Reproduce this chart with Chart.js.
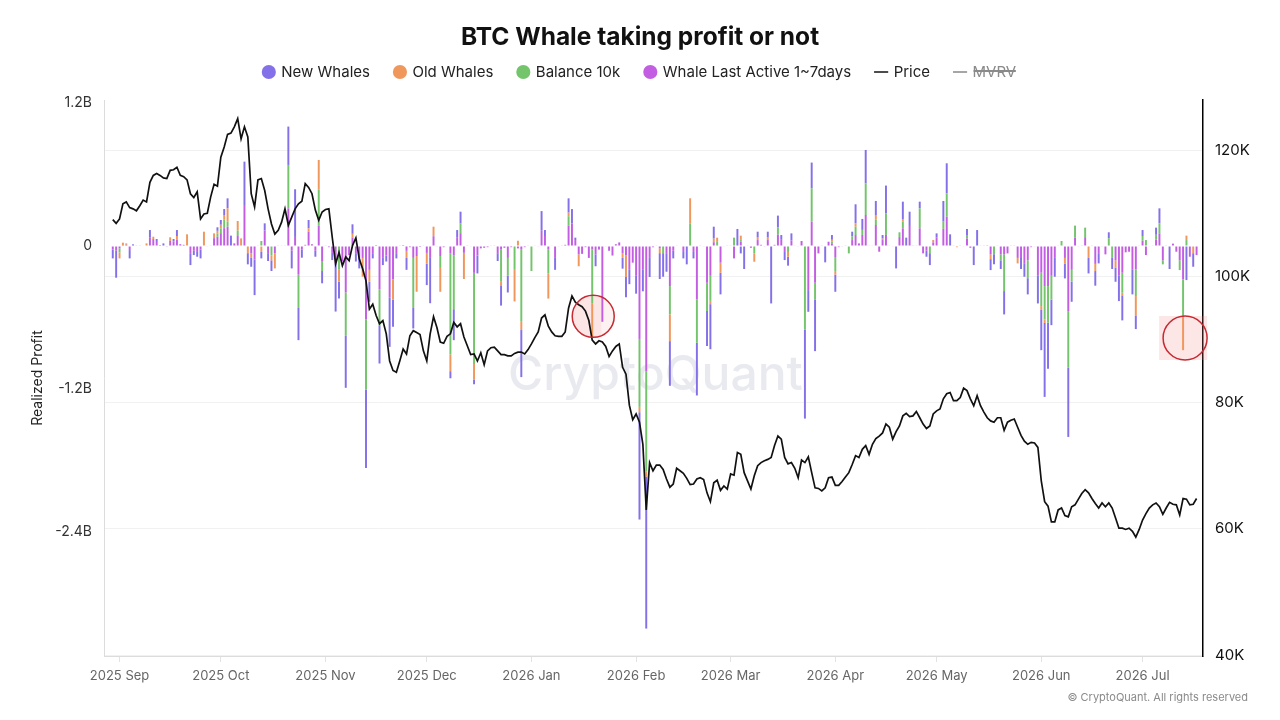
<!DOCTYPE html>
<html>
<head>
<meta charset="utf-8">
<title>BTC Whale taking profit or not</title>
<script src="https://cdn.jsdelivr.net/npm/chart.js@4.4.1/dist/chart.umd.min.js"></script>
<style>
  html, body { margin: 0; padding: 0; background: #fff; }
  #wrap { width: 1280px; height: 720px; }
</style>
</head>
<body>
<div id="wrap"><canvas id="whaleChart" width="1280" height="720"></canvas></div>
<script>
// one bar per day, starting on this date
const firstDay = [2025, 7, 30];

// BTC price, thousands of USD
const btcPrice = [
  109.0,108.4,109.1,111.5,111.8,110.9,110.7,110.4,111.2,112.1,
  111.8,114.9,116.0,116.3,116.0,115.6,115.5,116.8,116.9,117.3,
  116.0,115.8,115.3,113.1,112.5,113.4,109.1,109.9,110.0,112.6,
  114.6,114.3,118.9,120.5,122.5,122.7,123.7,125.0,121.8,123.7,
  122.1,113.1,111.0,115.3,115.5,113.6,110.7,108.3,106.7,107.3,
  108.6,110.7,108.1,109.4,110.7,111.5,111.9,114.7,114.1,113.1,
  110.5,108.9,110.2,110.6,110.7,106.2,102.0,103.8,101.7,103.1,
  102.5,104.9,106.1,102.8,101.2,99.3,94.8,95.6,93.8,92.5,
  93.0,90.9,86.6,85.1,84.8,86.6,88.5,87.7,90.6,91.4,
  91.1,90.8,88.2,86.6,90.9,93.6,91.9,89.6,89.4,90.5,
  90.9,92.7,92.0,92.5,90.4,89.0,87.6,87.7,86.6,87.9,
  86.0,88.2,88.7,88.8,88.2,87.6,87.6,87.4,87.4,87.8,
  88.0,88.0,87.7,88.4,89.3,90.3,91.2,93.4,93.9,92.1,
  91.2,90.6,90.5,90.5,91.2,95.0,96.9,95.9,95.5,95.2,
  94.5,93.0,89.9,89.3,89.8,89.6,88.9,87.3,88.2,88.9,
  89.3,85.6,84.5,79.6,77.3,78.2,76.9,73.4,63.0,70.5,
  69.2,70.1,70.1,69.4,67.9,66.6,67.1,69.6,69.2,68.8,
  68.0,67.0,67.1,67.9,68.1,67.8,65.7,64.3,67.3,67.7,
  66.1,66.8,66.3,68.7,68.5,72.1,71.8,68.9,67.6,66.3,
  68.4,70.0,70.5,70.8,71.0,71.3,73.2,74.7,74.2,71.3,
  70.3,70.5,69.6,68.1,70.9,70.5,71.4,68.9,66.5,66.4,
  66.0,66.5,68.1,68.2,66.9,66.9,67.5,68.2,68.9,70.2,
  71.6,71.3,72.6,73.2,71.8,73.4,74.3,74.7,75.2,76.6,
  76.1,74.2,75.4,76.3,77.9,78.3,77.8,77.9,78.6,77.6,
  76.6,75.9,76.3,78.2,78.7,79.0,80.6,81.4,81.6,80.3,
  80.3,80.8,82.3,81.9,80.6,79.5,81.1,79.5,78.5,77.6,
  77.1,76.9,77.6,77.6,75.6,76.9,77.2,77.4,76.1,74.8,
  73.9,73.4,73.7,73.6,72.9,67.6,64.3,63.6,61.1,61.1,
  63.0,63.3,62.1,61.9,63.5,63.8,64.7,65.6,66.2,65.7,
  64.8,64.0,63.3,64.1,63.5,64.1,63.3,61.7,60.1,60.1,
  59.9,60.1,59.6,58.7,59.9,61.4,62.4,63.3,63.8,64.1,
  63.5,62.3,63.3,64.2,63.9,63.8,62.2,64.8,64.7,63.8,
  63.9,64.8
];

// realized profit per cohort, millions of USD
const lastActive = [
  -30,-40,-20,8,10,-34,0,3,3,4,
  0,74,58,34,8,0,-6,43,39,54,
  15,10,0,-60,-40,-50,-30,0,-5,5,
  66,77,108,150,162,0,22,90,0,344,
  0,-60,-112,5,0,130,-60,0,-60,3,
  5,5,316,-38,76,-240,-28,10,120,15,
  -40,172,-126,5,-10,-58,-150,0,-130,-390,
  -76,72,-60,-100,-100,-616,-200,-60,8,-364,
  -100,-80,-434,-280,-60,3,8,-40,-10,-100,
  -84,-8,5,-58,-100,82,-5,-84,-10,4,
  -60,-80,74,108,-57,3,-5,-225,-80,-20,
  -15,-10,5,3,-60,-30,-15,-100,-10,0,
  -20,-30,-10,5,0,5,-5,128,84,-30,
  5,-100,-5,3,10,170,190,50,-70,-66,
  -10,-100,-30,-70,-30,-636,-5,-40,-80,15,
  30,-60,-80,-200,-140,-250,-780,-200,-1050,-100,
  -10,5,-20,0,-60,-336,-40,5,-5,-50,
  0,0,-50,-448,3,-5,-308,-250,32,0,
  -140,-5,3,5,-104,0,37,0,5,-15,
  0,50,10,-3,50,0,10,95,52,-50,
  0,46,5,-5,42,0,-370,204,-308,-62,
  3,0,36,22,-98,-10,-5,3,0,50,
  92,22,93,260,5,5,176,-48,50,93,
  5,-5,0,75,148,0,168,3,5,148,
  -62,-40,0,30,70,5,144,246,0,5,
  0,3,-5,63,-15,0,0,5,3,2,
  -70,0,5,-70,-70,-62,3,3,-100,-100,
  -150,-120,-10,-5,-250,-224,-336,-336,-250,-100,
  5,0,-100,-546,-200,71,-5,3,74,0,
  3,-150,-60,-5,-70,0,0,-120,-250,-224,
  -53,-48,-200,-196,5,44,-76,-5,5,54,
  106,-120,3,0,20,-48,-120,-280,0,-90,
  0,-76
];

const balance10k = [
  0,0,-34,0,0,0,0,0,0,0,
  0,0,0,0,0,0,0,0,0,0,
  0,0,0,0,0,0,0,0,0,0,
  0,30,40,70,42,0,0,40,0,0,
  0,0,0,0,42,0,0,-80,0,0,
  0,0,364,0,0,-280,0,0,0,0,
  0,300,-84,0,0,0,0,-200,0,-364,
  0,0,0,0,0,-588,0,0,0,-300,
  0,0,0,0,0,0,0,0,0,-420,
  0,0,0,0,0,0,0,-100,0,0,
  -850,-450,0,80,0,0,0,-765,0,0,
  0,0,0,0,0,-270,0,-150,0,-200,
  0,-600,0,0,-210,0,0,0,0,-200,
  0,0,0,0,0,80,0,0,0,0,
  0,0,-450,0,0,0,0,0,0,0,
  0,0,0,0,0,0,-570,0,-840,0,
  0,0,0,-60,0,-238,0,0,0,0,
  0,190,0,-364,0,0,-238,-210,0,40,
  0,0,0,0,70,0,20,0,0,0,
  -62,0,0,0,0,0,0,60,0,0,
  -50,0,0,0,0,-700,0,280,-140,0,
  0,0,0,15,-112,0,0,0,-62,30,
  70,0,42,266,0,0,44,0,0,182,
  0,0,0,40,56,0,0,0,0,168,
  0,0,-60,0,0,0,60,196,0,0,
  0,0,0,30,0,0,0,0,0,0,
  0,-70,0,-50,-308,0,0,0,0,0,
  0,-150,0,0,0,-280,-280,-308,-200,0,
  0,42,0,-476,-100,100,0,0,80,0,
  0,0,0,0,0,65,-100,0,0,-168,
  0,0,0,-224,0,40,50,0,0,40,
  84,-34,0,0,0,0,-82,-308,50,0,
  0,0
];

const oldWhales = [
  0,0,-50,20,12,0,0,0,0,0,
  22,0,20,0,0,0,0,30,0,30,
  0,0,98,0,0,0,0,120,0,0,
  40,20,30,40,112,0,0,80,64,0,
  -60,-40,0,0,-50,0,0,-40,-128,0,
  0,0,0,0,0,0,0,0,28,0,
  0,250,0,0,0,0,0,-100,0,0,
  0,30,0,0,-158,0,-100,0,0,0,
  0,0,0,-168,0,0,0,-60,0,0,
  -300,0,0,-90,0,80,0,-200,0,0,
  -140,0,0,0,-220,0,0,-130,0,0,
  0,0,0,0,0,-30,0,0,0,-265,
  44,-75,0,0,0,0,0,0,0,-211,
  0,0,0,0,0,30,0,0,-100,0,
  0,0,-290,0,0,0,0,0,0,0,
  0,-40,-180,0,0,0,-45,0,-45,0,
  0,0,-40,0,0,-224,0,0,0,0,
  0,210,0,0,0,0,0,-28,30,30,
  -84,0,0,0,0,0,30,0,0,0,
  -70,20,0,0,20,0,0,0,0,0,
  -40,0,0,0,0,0,0,0,0,0,
  0,0,0,15,-30,0,0,0,0,0,
  28,0,0,0,0,0,40,0,12,0,
  0,0,0,0,22,0,0,0,0,0,
  0,0,0,20,0,0,0,0,0,0,
  -10,0,0,0,0,0,0,0,0,0,
  -40,0,0,0,0,0,0,0,-46,0,
  0,0,0,0,0,-28,-30,0,0,0,
  0,0,-50,0,0,0,0,0,0,-100,
  0,-60,0,0,0,0,0,-60,0,-22,
  0,0,0,-162,0,0,0,0,0,0,
  0,0,0,0,0,0,0,-286,37,0,
  -60,0
];

const newWhales = [
  -74,-226,0,0,0,-70,14,0,0,0,
  0,60,0,25,0,22,0,0,20,50,
  0,0,0,-100,-36,-40,-74,0,0,0,
  0,30,40,50,84,87,0,0,0,364,
  -94,-74,-300,0,-54,60,-66,-90,0,0,
  0,0,322,-150,400,-270,-70,0,70,0,
  -50,0,-103,0,0,-60,-400,-140,0,-436,
  0,80,-70,-88,0,-658,-168,-44,0,-322,
  -60,-50,-412,-230,-44,0,0,-100,0,-172,
  0,0,0,-180,-380,0,0,0,0,0,
  -60,-260,60,100,0,0,0,-40,-150,0,
  0,0,0,0,-66,-170,0,-140,0,0,
  0,-395,0,0,0,0,0,165,50,0,
  0,-100,0,0,0,120,120,20,0,0,
  0,0,0,-100,0,0,0,0,0,0,
  0,-90,-170,-120,0,-150,-900,-180,-1275,-160,
  0,0,-217,-198,-156,-375,-64,0,0,-54,
  -154,0,-54,-442,0,0,-294,-378,100,0,
  -182,0,0,0,0,143,-62,-193,0,0,
  0,50,0,0,50,-482,0,100,40,-68,
  -75,60,0,0,0,-748,-182,216,-434,0,
  0,-137,0,40,-144,0,0,0,0,40,
  160,0,92,280,0,0,118,0,30,232,
  0,0,-188,0,146,70,120,0,0,56,
  0,-50,-100,0,36,0,174,252,98,0,
  0,0,0,50,0,-160,134,0,0,0,
  -92,-84,0,-73,-196,0,0,0,0,-93,
  -108,-136,0,0,-232,-342,-620,-386,-214,-158,
  0,0,-122,-580,-168,0,0,0,0,-130,
  0,-123,-86,0,0,50,-93,-120,-212,-210,
  0,0,-206,-115,0,50,0,0,0,60,
  126,0,0,-193,0,0,0,0,-286,0,
  -114,0
];

// MVRV is switched off in the legend, so it carries no points
const mvrv = [];

const profitTicks = [1200, 0, -1200, -2400];
const profitTickLabels = ['1.2B', '0', '-1.2B', '-2.4B'];
const priceTicks = [40, 60, 80, 100, 120];
const priceTickLabels = ['40K', '60K', '80K', '100K', '120K'];
const monthNames = ['Jan','Feb','Mar','Apr','May','Jun','Jul','Aug','Sep','Oct','Nov','Dec'];

// the two red circles drawn over the chart (day index, profit in millions)
const markers = [
  { day: 142.3, value: -590, radius: 21, band: 'inner' },
  { day: 317.6, value: -772, radius: 22, band: 'box' }
];

// build day labels and month starts for the x axis
const dayDates = [];
for (let i = 0; i < btcPrice.length; i++) {
  dayDates.push(new Date(Date.UTC(firstDay[0], firstDay[1], firstDay[2] + i)));
}
const monthStarts = [];
dayDates.forEach(function(d, i) {
  if (d.getUTCDate() === 1) monthStarts.push(i);
});
function monthLabel(i) {
  const d = dayDates[i];
  return d ? d.getUTCFullYear() + ' ' + monthNames[d.getUTCMonth()] : '';
}

function toPoints(values) {
  return values.map(function(v, i) { return { x: i, y: v }; });
}

Chart.defaults.font.family = 'Inter, "Noto Sans", sans-serif';
Chart.defaults.color = '#333';

const overlayPlugin = {
  id: 'overlay',
  beforeDatasetsDraw(chart) {
    const { ctx, chartArea } = chart;
    const xs = chart.scales.x, ys = chart.scales.y;
    ctx.save();
    // watermark
    ctx.font = '500 48px Inter, sans-serif';
    ctx.fillStyle = 'rgba(175, 178, 200, 0.28)';
    ctx.textAlign = 'center';
    ctx.textBaseline = 'middle';
    ctx.fillText('CryptoQuant', (chartArea.left + chartArea.right) / 2 + 2, (chartArea.top + chartArea.bottom) / 2 - 2);
    // pink highlight behind the circles
    markers.forEach(function(m) {
      const cx = xs.getPixelForValue(m.day);
      const cy = ys.getPixelForValue(m.value);
      if (m.band === 'box') {
        ctx.fillStyle = 'rgba(240, 130, 130, 0.2)';
        ctx.fillRect(cx - 26, cy - 22, 48, 44);
      } else {
        ctx.save();
        ctx.beginPath();
        ctx.arc(cx, cy, m.radius, 0, Math.PI * 2);
        ctx.clip();
        ctx.fillStyle = 'rgba(240, 130, 130, 0.1)';
        ctx.fillRect(cx - m.radius, cy - m.radius, m.radius * 2, m.radius * 2);
        ctx.fillStyle = 'rgba(240, 130, 130, 0.12)';
        ctx.fillRect(cx - m.radius, cy - m.radius, m.radius + 8, m.radius * 2);
        ctx.restore();
      }
    });
    ctx.restore();
  },
  afterDatasetsDraw(chart) {
    const { ctx } = chart;
    const xs = chart.scales.x, ys = chart.scales.y;
    ctx.save();
    ctx.strokeStyle = '#c62a32';
    ctx.lineWidth = 1.5;
    markers.forEach(function(m) {
      ctx.beginPath();
      ctx.arc(xs.getPixelForValue(m.day), ys.getPixelForValue(m.value), m.radius, 0, Math.PI * 2);
      ctx.stroke();
    });
    ctx.restore();
  },
  afterDraw(chart) {
    const ctx = chart.ctx;
    ctx.save();
    ctx.font = '11px Inter, sans-serif';
    ctx.fillStyle = '#8a8a8a';
    ctx.textAlign = 'right';
    ctx.textBaseline = 'middle';
    ctx.fillText('\u00A9 CryptoQuant. All rights reserved', 1248, 698);
    ctx.restore();
  }
};

// dataset index -> place in the legend
const legendRank = [3, 2, 1, 0, 4, 5];

const ctx = document.getElementById('whaleChart').getContext('2d');
new Chart(ctx, {
  type: 'bar',
  data: {
    datasets: [
      { label: 'Whale Last Active 1~7days', data: toPoints(lastActive), backgroundColor: '#c35ee3', pointStyle: 'circle', order: 1 },
      { label: 'Balance 10k', data: toPoints(balance10k), backgroundColor: '#74c46c', pointStyle: 'circle', order: 1 },
      { label: 'Old Whales', data: toPoints(oldWhales), backgroundColor: '#f0975b', pointStyle: 'circle', order: 1 },
      { label: 'New Whales', data: toPoints(newWhales), backgroundColor: '#8471e9', pointStyle: 'circle', order: 1 },
      {
        type: 'line', label: 'Price', data: toPoints(btcPrice), yAxisID: 'y1',
        borderColor: '#111', backgroundColor: '#111', borderWidth: 1.7,
        pointRadius: 0, pointStyle: 'line', tension: 0, order: 0
      },
      {
        type: 'line', label: 'MVRV', data: mvrv, yAxisID: 'y1', hidden: true,
        borderColor: '#888', backgroundColor: '#888', borderWidth: 1.5,
        pointRadius: 0, pointStyle: 'line', order: 2
      }
    ]
  },
  options: {
    responsive: false,
    animation: false,
    barPercentage: 0.58,
    categoryPercentage: 1.0,
    layout: { padding: 0 },
    plugins: {
      title: {
        display: true,
        text: 'BTC Whale taking profit or not',
        color: '#111',
        font: { size: 24.5, weight: 'bold' },
        padding: { top: 22.5, bottom: -12.4 }
      },
      subtitle: {
        display: true,
        text: '',
        weight: 500,
        font: { size: 1, lineHeight: 1 },
        padding: { top: 9.5, bottom: 0 }
      },
      legend: {
        position: 'top',
        labels: {
          usePointStyle: true,
          boxWidth: 10,
          boxHeight: 10,
          padding: 25,
          color: '#222',
          font: { size: 15 },
          sort: function(a, b) { return legendRank[a.datasetIndex] - legendRank[b.datasetIndex]; },
          generateLabels: function(chart) {
            const items = Chart.defaults.plugins.legend.labels.generateLabels(chart);
            items.forEach(function(it) { if (it.hidden) it.fontColor = '#8a8a8a'; });
            return items;
          }
        }
      },
      tooltip: { enabled: false }
    },
    scales: {
      x: {
        type: 'linear',
        stacked: true,
        offset: false,
        min: -2.6,
        max: 322.9,
        afterBuildTicks: function(s) { s.ticks = monthStarts.map(function(i) { return { value: i }; }); },
        afterFit: function(s) { s.height = 64; },
        ticks: {
          autoSkip: false,
          maxRotation: 0,
          color: '#666',
          font: { size: 13 },
          padding: 6,
          callback: function(v) { return monthLabel(v); }
        },
        grid: { offset: false, drawOnChartArea: false, drawTicks: true, tickLength: 6, color: '#e3e3e3' },
        border: { color: '#dcdcdc' }
      },
      y: {
        position: 'left',
        stacked: true,
        min: -3440,
        max: 1225,
        afterBuildTicks: function(s) { s.ticks = profitTicks.map(function(v) { return { value: v }; }); },
        afterFit: function(s) { s.width = 104; },
        ticks: {
          color: '#333',
          font: { size: 14 },
          padding: 12,
          callback: function(v) { return profitTickLabels[profitTicks.indexOf(v)]; }
        },
        grid: { drawOnChartArea: false, drawTicks: false },
        border: { color: '#dcdcdc' },
        title: {
          display: true,
          text: 'Realized Profit',
          color: '#222',
          font: { size: 14 },
          padding: { top: 29.6, bottom: 0 }
        }
      },
      y1: {
        position: 'right',
        min: 39.85,
        max: 127.95,
        afterBuildTicks: function(s) { s.ticks = priceTicks.map(function(v) { return { value: v }; }); },
        afterFit: function(s) { s.width = 77; },
        ticks: {
          color: '#111',
          font: { size: 15 },
          padding: 12,
          callback: function(v) { return priceTickLabels[priceTicks.indexOf(v)]; }
        },
        grid: { drawOnChartArea: true, drawTicks: false, color: '#f1f1f1' },
        border: { color: '#000', width: 1.5 }
      }
    }
  },
  plugins: [overlayPlugin]
});
</script>
</body>
</html>
